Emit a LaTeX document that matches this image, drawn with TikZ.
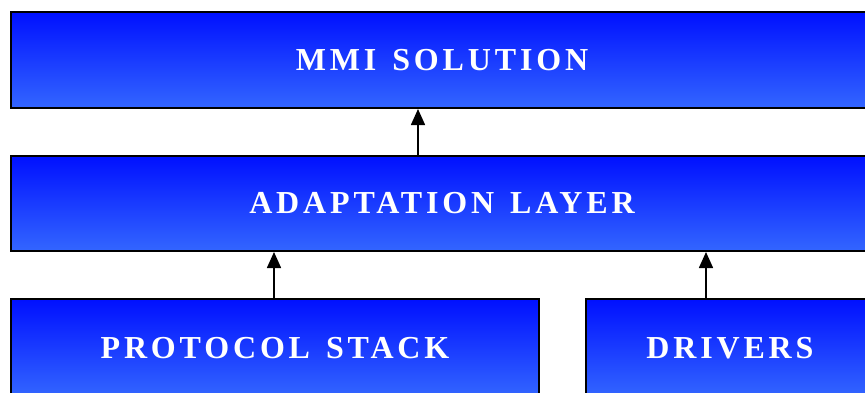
\documentclass[tikz,border=0pt]{standalone}
\usepackage{fontspec}
\setmainfont{Liberation Serif}
\newfontfamily\labfont[LetterSpace=12,WordSpace=1.35]{Liberation Serif}
\usetikzlibrary{arrows.meta}
\tikzset{
  layer/.style={draw=black, line width=2pt, rectangle, top color=blockTop, bottom color=blockBot,
    text=white, font=\labfont\bfseries\fontsize{32}{36}\selectfont, inner sep=0pt, anchor=north west},
  uparrow/.style={line width=1.6pt, -{Triangle[length=16pt,width=14pt]}}
}
\definecolor{blockTop}{HTML}{0010FF}
\definecolor{blockBot}{HTML}{3366FF}
\begin{document}
\begin{tikzpicture}[x=1pt,y=-1pt]
\useasboundingbox (0,0) rectangle (865,392);
\clip (0,0) rectangle (865,392);
\node[layer, minimum width=862pt, minimum height=96pt] (mmi) at (10,11) {MMI SOLUTION};
\node[layer, minimum width=862pt, minimum height=95pt] (adapt) at (10,155) {ADAPTATION LAYER};
\node[layer, minimum width=528pt, minimum height=98pt] (proto) at (10,298) {PROTOCOL STACK};
\node[layer, minimum width=288pt, minimum height=98pt] (drv) at (585,298) {DRIVERS};
\coordinate (a1) at (418,0);
\coordinate (a2) at (274,0);
\coordinate (a3) at (706,0);
\draw[uparrow] (adapt.north -| a1) -- (mmi.south -| a1);
\draw[uparrow] (proto.north -| a2) -- (adapt.south -| a2);
\draw[uparrow] (drv.north -| a3) -- (adapt.south -| a3);
\end{tikzpicture}
\end{document}
